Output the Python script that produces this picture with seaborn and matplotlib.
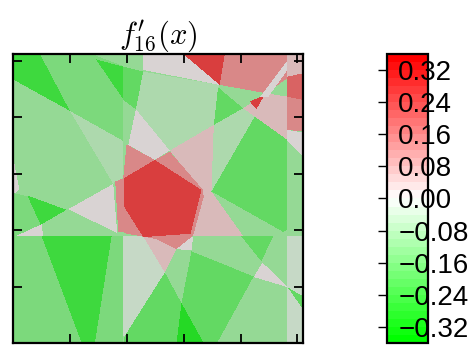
import numpy as np
import matplotlib
matplotlib.use("Agg")
import matplotlib.pyplot as plt
from matplotlib.path import Path
from matplotlib.colors import LinearSegmentedColormap, ListedColormap, Normalize
from matplotlib.cm import ScalarMappable
import seaborn as sns

plt.rcParams["font.family"] = ["Liberation Sans", "DejaVu Sans"]
plt.rcParams["mathtext.fontset"] = "cm"

# value of each colour level seen in the picture
levels = {
    "G5": -0.29, "G4": -0.245, "G3": -0.20, "G2": -0.16, "G1": -0.12,
    "G0": -0.07, "Gm": -0.04, "Z": 0.0,
    "P1": 0.04, "P2": 0.12, "P3": 0.18, "R": 0.24,
}
background = "G1"

# regions (frame 12..880, y down), painted in order
regions = [
    ("G4", [(12, 12), (90, 12), (180, 183), (12, 90)]),
    ("G2", [(90, 12), (245, 12), (340, 48), (340, 273), (180, 183)]),
    ("G4", [(258, 28), (340, 50), (340, 148)]),
    ("G3", [(340, 50), (400, 65), (378, 178), (340, 150)]),
    ("G0", [(180, 183), (340, 273), (340, 385), (316, 395), (310, 402)]),
    ("G0", [(400, 65), (630, 105), (625, 112), (612, 225), (480, 302), (378, 178)]),
    ("Z", [(400, 12), (520, 12), (630, 105), (400, 60)]),
    ("R", [(520, 12), (645, 12), (630, 105)]),
    ("P2", [(645, 12), (833, 12), (833, 85), (770, 130), (630, 105)]),
    ("P1", [(700, 175), (770, 130), (833, 140), (833, 270), (735, 200)]),
    ("R", [(720, 155), (765, 135), (740, 178)]),
    ("Z", [(752, 140), (848, 12), (868, 12), (775, 142)]),
    ("P1", [(833, 12), (880, 12), (880, 70), (833, 80)]),
    ("P3", [(833, 80), (880, 70), (880, 150), (833, 140)]),
    ("P2", [(833, 140), (880, 150), (880, 245), (833, 240)]),
    ("Z", [(833, 240), (880, 248), (880, 320), (833, 272)]),
    ("G3", [(625, 112), (700, 175), (612, 225)]),
    ("G0", [(612, 225), (700, 175), (735, 200), (605, 425)]),
    ("G3", [(735, 200), (833, 270), (833, 540), (820, 546), (605, 425)]),
    ("P1", [(480, 302), (612, 225), (605, 425), (700, 558), (540, 558), (575, 420)]),
    ("Z", [(378, 178), (480, 302), (435, 330), (355, 285)]),
    ("P2", [(350, 283), (435, 330), (340, 385)]),
    ("P2", [(435, 330), (480, 305), (578, 418)]),
    ("Z", [(12, 335), (28, 420), (12, 432)]),
    ("G2", [(12, 430), (55, 440), (95, 525), (15, 560), (12, 560)]),
    ("G4", [(52, 437), (170, 480), (92, 525)]),
    ("Z", [(15, 560), (95, 523), (100, 560)]),
    ("Z", [(175, 478), (310, 402), (322, 550)]),
    ("P2", [(316, 395), (342, 385), (342, 548), (325, 548)]),
    # below the horizontal break
    ("G2", [(12, 560), (340, 560), (340, 880), (12, 880)]),
    ("G4", [(95, 560), (305, 560), (255, 880), (215, 880)]),
    ("Gm", [(340, 560), (400, 560), (465, 668), (345, 858), (340, 858)]),
    ("P1", [(400, 560), (525, 565), (465, 668)]),
    ("Z", [(500, 598), (528, 562), (550, 560), (545, 602)]),
    ("G1", [(465, 668), (500, 598), (545, 605), (515, 760)]),
    ("G3", [(465, 668), (515, 760), (500, 880), (340, 880), (345, 858)]),
    ("G5", [(515, 760), (582, 880), (500, 880)]),
    ("G3", [(545, 605), (732, 680), (622, 880), (582, 880), (515, 760)]),
    ("G3", [(695, 560), (790, 560), (755, 635)]),
    ("Z", [(758, 638), (833, 712), (732, 682)]),
    ("Gm", [(833, 560), (880, 560), (880, 880), (833, 880)]),
    ("G3", [(833, 712), (880, 740), (880, 778)]),
    # centre pentagon
    ("P2", [(342, 383), (435, 330), (578, 418), (582, 440), (550, 558),
            (500, 598), (440, 568), (342, 550)]),
    ("R", [(435, 330), (575, 420), (542, 552), (400, 562), (342, 470), (342, 385)]),
]

tick_x = [182, 352, 522, 692, 862]
tick_y = [32, 202, 372, 542, 712]
cbar_ticks = [-0.32, -0.24, -0.16, -0.08, 0.0, 0.08, 0.16, 0.24, 0.32]
vmax = 0.36

# rasterise the traced regions
lo, hi, n = 12, 880, 289
centers = lo + (np.arange(n) + 0.5) * (hi - lo) / n
X, Y = np.meshgrid(centers, centers)
pts = np.column_stack([X.ravel(), Y.ravel()])
field = np.full(n * n, levels[background])
for name, verts in regions:
    field[Path(verts).contains_points(pts)] = levels[name]
field = field.reshape(n, n)

base = LinearSegmentedColormap.from_list("gwr", ["#00ff00", "#ffffff", "#ff0000"]).resampled(36)
cols = base(np.linspace(0, 1, 36))
cols[:, :3] *= 0.85
dark = ListedColormap(cols)

fig = plt.figure(figsize=(4.72, 3.45), dpi=100)
ax = fig.add_axes([0.0286, 0.0058, 0.6144, 0.8377])
cax = fig.add_axes([0.8199, 0.0058, 0.0869, 0.8377])

sns.heatmap(field, ax=ax, cmap=dark, vmin=-vmax, vmax=vmax, cbar=False,
            xticklabels=False, yticklabels=False, rasterized=True)

to_idx = lambda p: (np.asarray(p) - lo) / (hi - lo) * n
ax.set_xticks(to_idx(tick_x))
ax.set_yticks(to_idx(tick_y))
ax.tick_params(direction="in", length=6.5, width=1.3, top=True, right=True,
               labelbottom=False, labelleft=False, color="k")
for s in ax.spines.values():
    s.set_visible(True)
    s.set_linewidth(1.6)
    s.set_color("k")
ax.set_title(r"$f^{\prime}_{16}(x)$", fontsize=22, pad=2)

sm = ScalarMappable(norm=Normalize(-vmax, vmax), cmap=base)
cb = fig.colorbar(sm, cax=cax, ticks=cbar_ticks)
cb.set_ticklabels([f"{t:.2f}".replace("-", "\u2212") for t in cbar_ticks])
cb.outline.set_linewidth(1.6)
cax.yaxis.set_ticks_position("left")
cax.tick_params(direction="out", length=6.5, width=1.0, left=True, right=False,
                labelleft=False, labelright=True, labelsize=20, pad=-28)

fig.savefig("out.png", dpi=100)
